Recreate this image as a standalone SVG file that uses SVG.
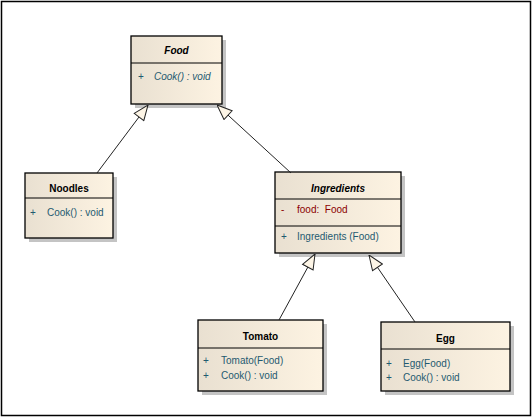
<svg xmlns="http://www.w3.org/2000/svg" width="532" height="417" viewBox="0 0 532 417">
<defs>
<linearGradient id="g" x1="0" y1="0" x2="1" y2="0">
<stop offset="0" stop-color="#e9e0d1"/>
<stop offset="1" stop-color="#fdf3e2"/>
</linearGradient>
<marker id="tri" viewBox="0 0 16 14" refX="16" refY="7" markerWidth="16" markerHeight="14" markerUnits="userSpaceOnUse" orient="auto">
<path d="M1,1 L16,7 L1,13 Z" fill="#fdf5e6" stroke="#222" stroke-width="1"/>
</marker>
</defs>
<style>
.box{fill:url(#g);stroke:#000;stroke-width:1.3}
.sh{fill:#c4c4c4}
.div{stroke:#000;stroke-width:1}
text{font-family:"Liberation Sans",Arial,sans-serif;font-size:10px}
.t{font-weight:bold;text-anchor:middle;fill:#000}
.i{font-style:italic}
.m{fill:#1f5a70}
.a{fill:#8b0000}
.c{stroke:#222;stroke-width:1;fill:none;marker-end:url(#tri)}
</style>
<rect x="1.5" y="1.5" width="529" height="414" fill="#fff" stroke="#000" stroke-width="1.5"/>
<g id="Food">
<rect class="sh" x="135" y="40" width="91" height="68"/>
<rect class="box" x="131" y="36" width="91" height="68"/>
<line class="div" x1="131" y1="63" x2="222" y2="63"/>
<text class="t i" x="176.5" y="54">Food</text>
<text class="m" x="138" y="80">+</text>
<text class="m i" x="154" y="80">Cook() : void</text>
</g>
<g id="Noodles">
<rect class="sh" x="29" y="177" width="88" height="65"/>
<rect class="box" x="25" y="173" width="88" height="65"/>
<line class="div" x1="25" y1="198" x2="113" y2="198"/>
<text class="t" x="69" y="192">Noodles</text>
<text class="m" x="30" y="216">+</text>
<text class="m" x="47" y="216">Cook() : void</text>
</g>
<g id="Ingredients">
<rect class="sh" x="279" y="176" width="126" height="81"/>
<rect class="box" x="275" y="172" width="126" height="81"/>
<line class="div" x1="275" y1="199" x2="401" y2="199"/>
<line class="div" x1="275" y1="226" x2="401" y2="226"/>
<text class="t i" x="338" y="192">Ingredients</text>
<text class="a" x="281" y="213">-</text>
<text class="a" x="297" y="213">food:&#160; Food</text>
<text class="m" x="281" y="240">+</text>
<text class="m" x="297" y="240">Ingredients (Food)</text>
</g>
<g id="Tomato">
<rect class="sh" x="202" y="324" width="125" height="71"/>
<rect class="box" x="198" y="320" width="125" height="71"/>
<line class="div" x1="198" y1="348" x2="323" y2="348"/>
<text class="t" x="260.5" y="340">Tomato</text>
<text class="m" x="203" y="364">+</text>
<text class="m" x="221" y="364">Tomato(Food)</text>
<text class="m" x="203" y="379">+</text>
<text class="m" x="221" y="379">Cook() : void</text>
</g>
<g id="Egg">
<rect class="sh" x="385" y="326" width="129" height="69"/>
<rect class="box" x="381" y="322" width="129" height="69"/>
<line class="div" x1="381" y1="349" x2="510" y2="349"/>
<text class="t" x="445.5" y="342">Egg</text>
<text class="m" x="386" y="367">+</text>
<text class="m" x="403" y="367">Egg(Food)</text>
<text class="m" x="386" y="381">+</text>
<text class="m" x="403" y="381">Cook() : void</text>
</g>
<g id="connectors">
<line class="c" x1="97" y1="173" x2="148" y2="105"/>
<line class="c" x1="291" y1="173" x2="217" y2="105"/>
<line class="c" x1="279" y1="320" x2="315" y2="254"/>
<line class="c" x1="415" y1="322" x2="369" y2="255"/>
</g>
</svg>
